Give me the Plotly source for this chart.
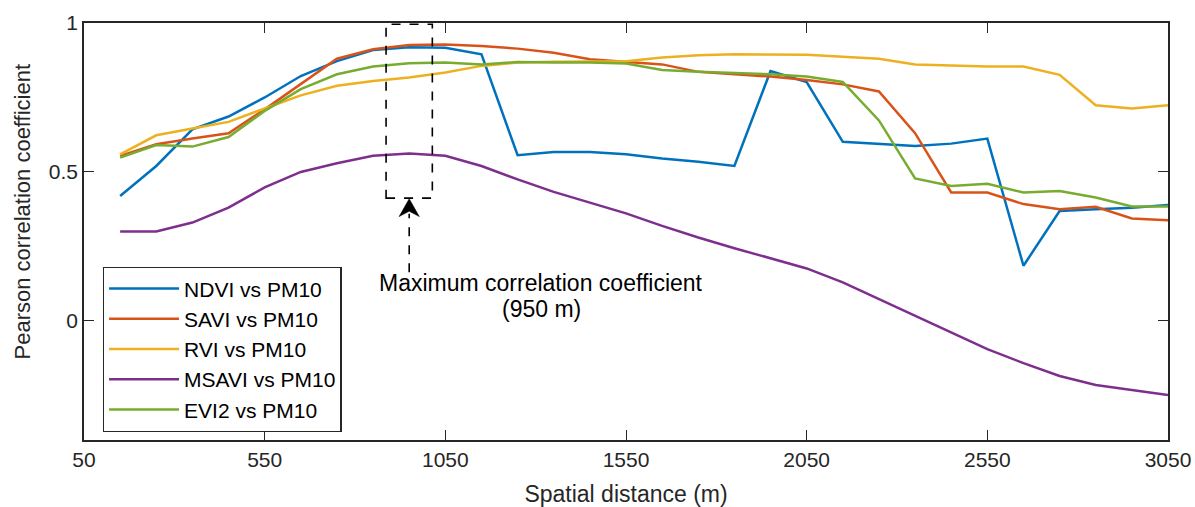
import plotly.graph_objects as go

distance = list(range(150, 3051, 100))

ndvi = [0.419, 0.52, 0.643, 0.686, 0.75, 0.822, 0.872, 0.909, 0.919, 0.917,
        0.895, 0.556, 0.567, 0.567, 0.559, 0.545, 0.534, 0.52, 0.839, 0.802,
        0.601, 0.595, 0.587, 0.595, 0.612, 0.185, 0.369, 0.375, 0.38, 0.389]
savi = [0.554, 0.593, 0.612, 0.63, 0.71, 0.794, 0.88, 0.912, 0.926, 0.928,
        0.923, 0.914, 0.90, 0.878, 0.869, 0.861, 0.836, 0.828, 0.82, 0.809,
        0.794, 0.77, 0.63, 0.431, 0.431, 0.392, 0.375, 0.383, 0.344, 0.338]
rvi = [0.559, 0.623, 0.646, 0.668, 0.713, 0.757, 0.789, 0.805, 0.817, 0.834,
       0.856, 0.867, 0.87, 0.87, 0.872, 0.884, 0.892, 0.895, 0.895, 0.893,
       0.887, 0.88, 0.861, 0.858, 0.854, 0.854, 0.826, 0.724, 0.713, 0.724]
msavi = [0.30, 0.30, 0.33, 0.38, 0.448, 0.50, 0.529, 0.554, 0.562, 0.554,
         0.52, 0.475, 0.433, 0.397, 0.361, 0.319, 0.28, 0.244, 0.209, 0.176,
         0.129, 0.073, 0.017, -0.039, -0.095, -0.142, -0.185, -0.215, -0.233, -0.249]
evi2 = [0.548, 0.59, 0.585, 0.617, 0.705, 0.778, 0.828, 0.854, 0.865, 0.867,
        0.861, 0.869, 0.867, 0.867, 0.864, 0.842, 0.836, 0.831, 0.828, 0.82,
        0.802, 0.673, 0.478, 0.453, 0.46, 0.431, 0.436, 0.414, 0.384, 0.384]

series_names = ["NDVI vs PM10", "SAVI vs PM10", "RVI vs PM10", "MSAVI vs PM10", "EVI2 vs PM10"]
series_values = [ndvi, savi, rvi, msavi, evi2]
colors = ["#0072BD", "#D95319", "#EDB120", "#7E2F8E", "#77AC30"]

x_ticks = list(range(50, 3051, 500))
y_ticks = [0, 0.5, 1]
y_tick_text = ["0", "0.5", "1"]

max_dist = 950
box_x0, box_x1 = 886, 1014
box_y0, box_y1 = 0.412, 0.996

FONT = "Liberation Sans, Arial, Helvetica, sans-serif"
AX = "#262626"

fig = go.Figure()
for name, vals, c in zip(series_names, series_values, colors):
    fig.add_trace(go.Scatter(x=distance, y=vals, mode="lines", name=name,
                             line=dict(color=c, width=2.5)))

# dashed box marking the maximum
fig.add_shape(type="rect", x0=box_x0, x1=box_x1, y0=box_y0, y1=box_y1,
              line=dict(color="black", width=1.6, dash="dash"), layer="above")
# dashed arrow shaft
fig.add_shape(type="line", x0=max_dist, x1=max_dist, y0=0.163, y1=0.36,
              line=dict(color="black", width=1.6, dash="dash"))
# arrow head
hw = 28
fig.add_shape(type="path",
              path=f"M {max_dist},{box_y0-0.002} L {max_dist-hw},0.350 L {max_dist},0.368 L {max_dist+hw},0.350 Z",
              fillcolor="black", line=dict(color="black", width=0.5))

fig.add_annotation(x=1315, y=0.127, text="Maximum correlation coefficient", showarrow=False,
                   xanchor="center", yanchor="middle", font=dict(size=23, color="black", family=FONT))
fig.add_annotation(x=1315, y=0.040, text="(950 m)", showarrow=False,
                   xanchor="center", yanchor="middle", font=dict(size=23, color="black", family=FONT))

# y axis title (placed as in the reference, slightly above the axis middle)
fig.add_annotation(xref="paper", yref="paper", x=-0.0572, y=0.548,
                   text="Pearson correlation coefficient", textangle=-90, showarrow=False,
                   xanchor="center", yanchor="middle", font=dict(size=22, color=AX, family=FONT))

fig.update_layout(
    width=1195, height=507,
    margin=dict(l=84, r=27, t=23, b=67, autoexpand=False),
    plot_bgcolor="white", paper_bgcolor="white",
    font=dict(family=FONT, size=21, color=AX),
    legend=dict(x=0.0173, y=0.415, xanchor="left", yanchor="top",
                bgcolor="white", bordercolor=AX, borderwidth=1.3,
                font=dict(size=21, color="black", family=FONT),
                itemwidth=70, tracegroupgap=0),
    xaxis=dict(range=[50, 3050], tickvals=x_ticks, ticks="inside", ticklen=10,
               tickcolor=AX, tickwidth=1.3, showline=True, linecolor=AX, linewidth=1.5,
               mirror="ticks", showgrid=False, zeroline=False,
               tickfont=dict(size=21, color=AX),
               title=dict(text="Spatial distance (m)", font=dict(size=23, color=AX), standoff=16)),
    yaxis=dict(range=[-0.4, 1], tickvals=y_ticks, ticktext=y_tick_text, ticks="inside", ticklen=10,
               tickcolor=AX, tickwidth=1.3, showline=True, linecolor=AX, linewidth=1.5,
               mirror="ticks", showgrid=False, zeroline=False,
               tickfont=dict(size=21, color=AX)),
)

fig.write_html("out.html")
